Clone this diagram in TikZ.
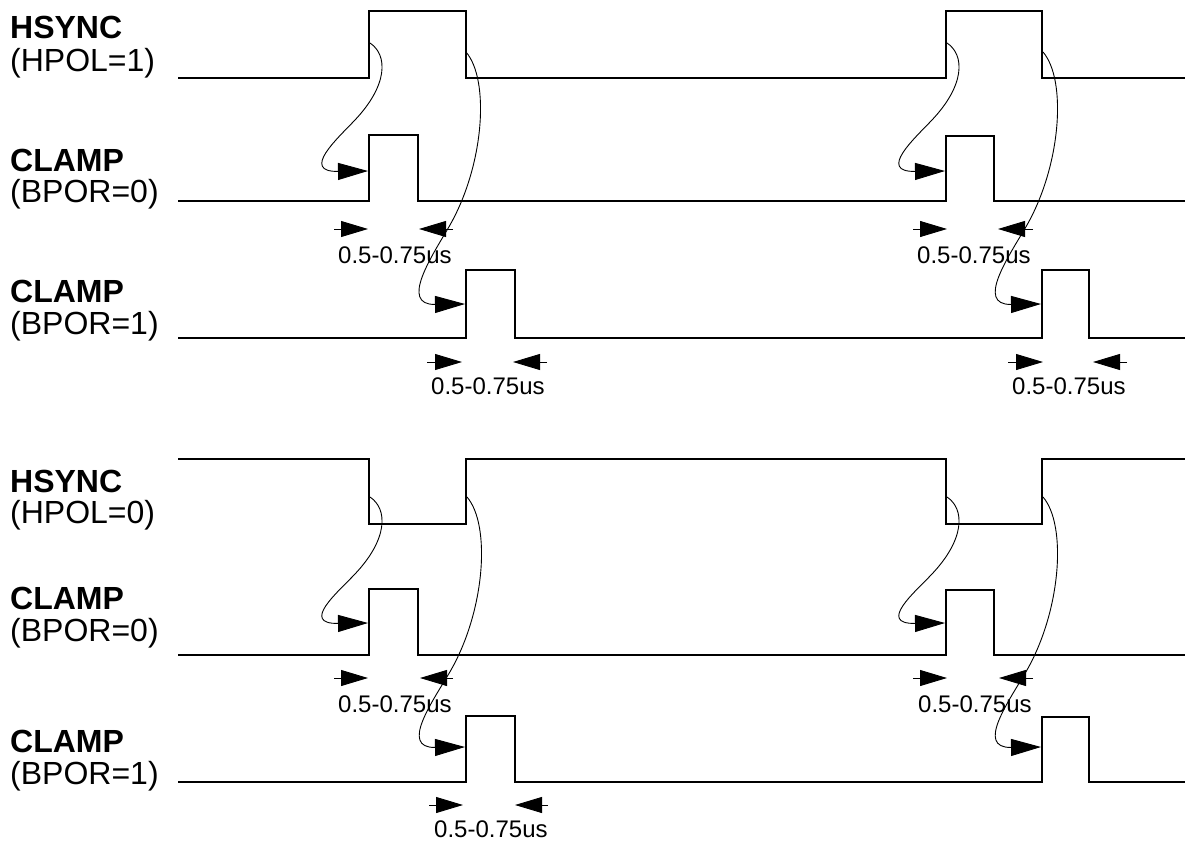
\documentclass[tikz,border=0pt]{standalone}
\usepackage{fontspec}
\setmainfont{Liberation Sans}
\usetikzlibrary{arrows.meta,calc}

\tikzset{
  wave/.style={line width=1.3pt, line join=miter},
  hookarrow/.style={line width=0.9pt, -{Triangle[length=30pt,width=17pt]}},
  measarrow/.style={line width=0.9pt, -{Triangle[length=27pt,width=16pt]}},
  siglabel/.style={anchor=base west, inner sep=0pt, font=\fontsize{32}{33}\selectfont},
  signame/.style={anchor=base west, inner sep=0pt, font=\fontsize{32}{33}\selectfont\bfseries},
  timelabel/.style={anchor=base west, inner sep=0pt, font=\fontsize{24}{26}\selectfont},
}

\newcommand{\hookA}[2]{\draw[hookarrow] (#1) .. controls ($(#1)+(18,12)$) and ($(#1)+(18,42)$) .. ($(#1)+(-15,77)$) .. controls ($(#1)+(-32,95)$) and ($(#2)+(-68,1)$) .. (#2);}
\newcommand{\hookB}[2]{\draw[hookarrow] (#1) .. controls ($(#1)+(24,28)$) and ($(#1)+(18,113)$) .. ($(#1)+(-16,173)$) .. controls ($(#1)+(-34,204)$) and ($(#2)+(-66,1)$) .. (#2);}
\newcommand{\twoarrows}[6]{%
  \coordinate (#1ra) at (#3,#2); \coordinate (#1rb) at (#4,#2);
  \coordinate (#1la) at (#6,#2); \coordinate (#1lb) at (#5,#2);
  \draw[measarrow] (#1ra) -- (#1rb);
  \draw[measarrow] (#1la) -- (#1lb);}

\begin{document}
\begin{tikzpicture}[x=1pt,y=-1pt]
\useasboundingbox (0,0) rectangle (1185,842);

% ---------- waveforms ----------
\draw[wave] (178,78) -- (369,78) -- (369,11) -- (466,11) -- (466,78) -- (946,78) -- (946,11) -- (1042,11) -- (1042,78) -- (1185,78);
\draw[wave] (178,201) -- (369,201) -- (369,135) -- (418,135) -- (418,201) -- (946,201) -- (946,136) -- (994,136) -- (994,201) -- (1185,201);
\draw[wave] (178,338) -- (466,338) -- (466,270) -- (515,270) -- (515,338) -- (1042,338) -- (1042,270) -- (1089,270) -- (1089,338) -- (1185,338);

\draw[wave] (178,459) -- (369,459) -- (369,524) -- (466,524) -- (466,459) -- (946,459) -- (946,524) -- (1042,524) -- (1042,459) -- (1185,459);
\draw[wave] (178,655) -- (369,655) -- (369,589) -- (418,589) -- (418,655) -- (946,655) -- (946,590) -- (994,590) -- (994,655) -- (1185,655);
\draw[wave] (178,782) -- (466,782) -- (466,716) -- (515,716) -- (515,782) -- (1042,782) -- (1042,717) -- (1089,717) -- (1089,782) -- (1185,782);

% ---------- signal labels ----------
\node[signame]  (l1a) at (10,39)  {HSYNC};
\node[siglabel] (l1b) at (10,72)  {(HPOL=1)};
\node[signame]  (l2a) at (10,172) {CLAMP};
\node[siglabel] (l2b) at (10,203) {(BPOR=0)};
\node[signame]  (l3a) at (10,302) {CLAMP};
\node[siglabel] (l3b) at (10,334) {(BPOR=1)};
\node[signame]  (l4a) at (10,492) {HSYNC};
\node[siglabel] (l4b) at (10,523) {(HPOL=0)};
\node[signame]  (l5a) at (10,609) {CLAMP};
\node[siglabel] (l5b) at (10,641) {(BPOR=0)};
\node[signame]  (l6a) at (10,752) {CLAMP};
\node[siglabel] (l6b) at (10,784) {(BPOR=1)};

% ---------- timing labels ----------
\node[timelabel] (t1) at (338,263) {0.5-0.75us};
\node[timelabel] (t2) at (917,263) {0.5-0.75us};
\node[timelabel] (t3) at (431,394) {0.5-0.75us};
\node[timelabel] (t4) at (1012,394) {0.5-0.75us};
\node[timelabel] (t5) at (338,712) {0.5-0.75us};
\node[timelabel] (t6) at (918,712) {0.5-0.75us};
\node[timelabel] (t7) at (434,837) {0.5-0.75us};

% ---------- measurement arrows ----------
\twoarrows{m1}{229}{334}{368}{419}{453}
\twoarrows{m2}{229}{913}{947}{998}{1033}
\twoarrows{m3}{362}{427}{462}{513}{547}
\twoarrows{m4}{362}{1008}{1043}{1093}{1127}
\twoarrows{m5}{678}{334}{368}{420}{453}
\twoarrows{m6}{678}{913}{947}{999}{1033}
\twoarrows{m7}{805}{429}{463}{515}{548}

% ---------- causal curves ----------
\coordinate (a1s) at (370,43);  \coordinate (a1e) at (368,171);
\coordinate (b1s) at (466,52);  \coordinate (b1e) at (465,304);
\coordinate (a2s) at (947,43);  \coordinate (a2e) at (945,171);
\coordinate (b2s) at (1043,52); \coordinate (b2e) at (1041,304);
\coordinate (a3s) at (370,497); \coordinate (a3e) at (368,623);
\coordinate (b3s) at (467,497); \coordinate (b3e) at (465,747);
\coordinate (a4s) at (947,497); \coordinate (a4e) at (945,623);
\coordinate (b4s) at (1043,497);\coordinate (b4e) at (1041,747);

\hookA{a1s}{a1e} \hookB{b1s}{b1e}
\hookA{a2s}{a2e} \hookB{b2s}{b2e}
\hookA{a3s}{a3e} \hookB{b3s}{b3e}
\hookA{a4s}{a4e} \hookB{b4s}{b4e}
\end{tikzpicture}
\end{document}
